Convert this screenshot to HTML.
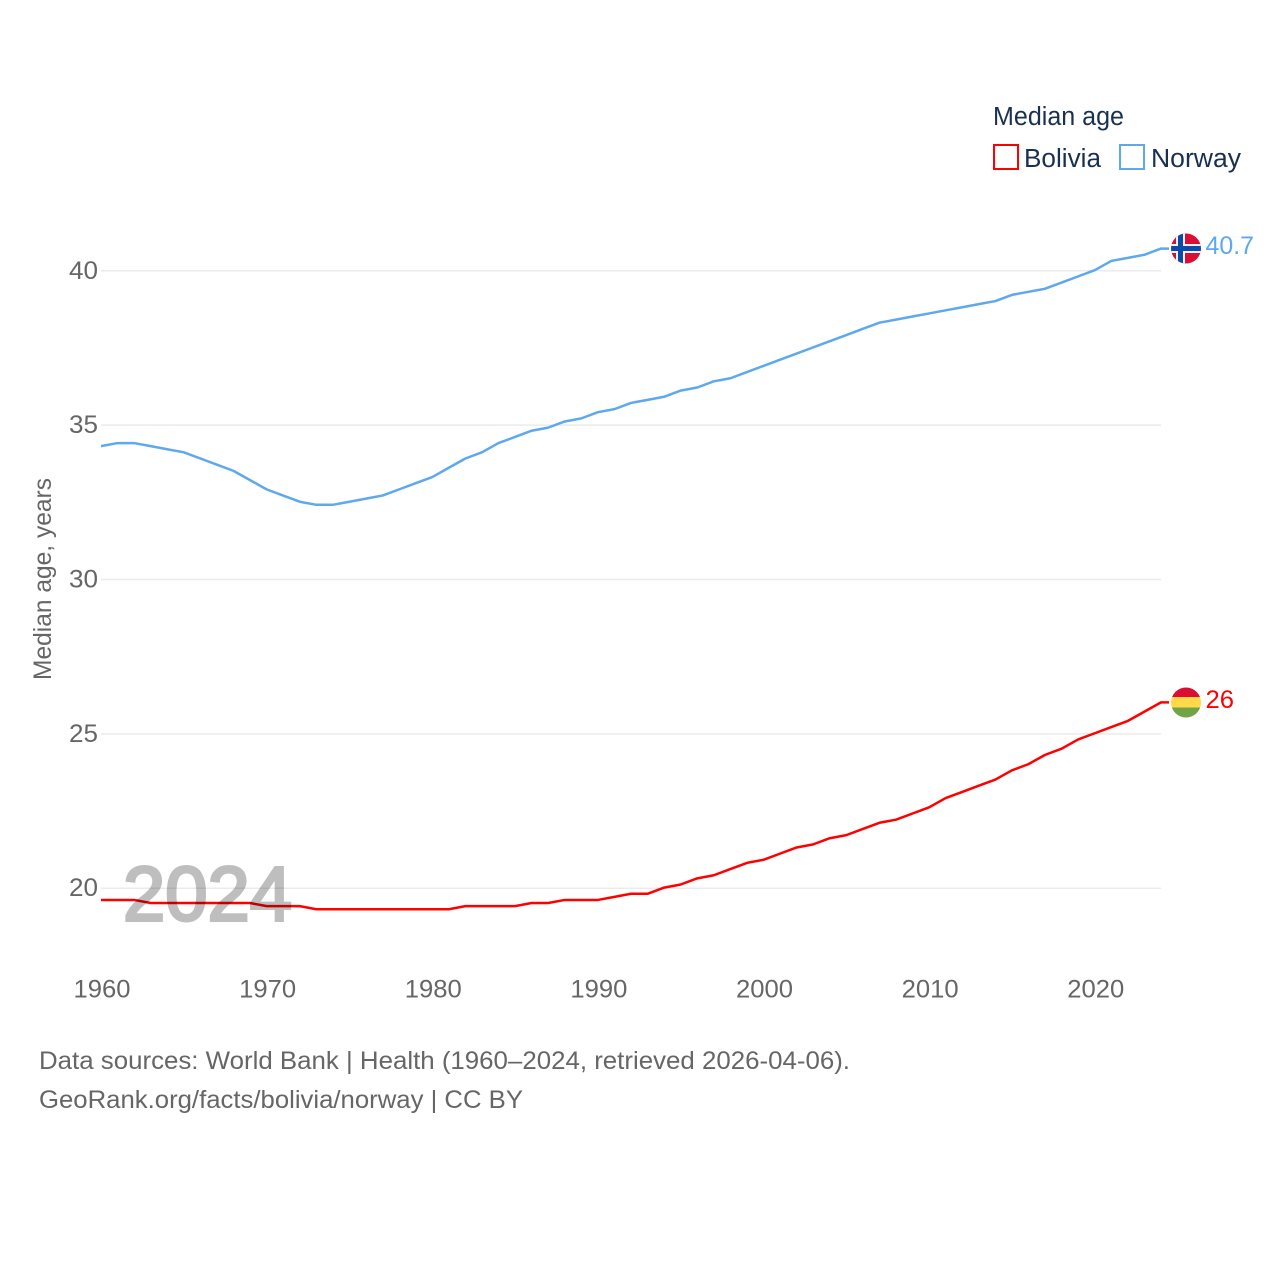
<!DOCTYPE html>
<html>
<head>
<meta charset="utf-8">
<title>Median age: Bolivia and Norway</title>
<style>
html,body{margin:0;padding:0;background:#fff;width:1280px;height:1280px;overflow:hidden}
svg{display:block}
text{font-family:"Liberation Sans",sans-serif}
.tick{font-size:25px;fill:#666}
.foot{font-size:25px;fill:#666}
.leg{font-size:25.5px;fill:#1a3050}
</style>
</head>
<body>
<svg id="chart" xmlns="http://www.w3.org/2000/svg" width="1280" height="1280" viewBox="0 0 1280 1280">
  <defs>
    <clipPath id="clip-no"><circle id="clip-no-circle" cx="1186" cy="248.5" r="15"/></clipPath>
    <clipPath id="clip-bo"><circle id="clip-bo-circle" cx="1186" cy="702.5" r="15"/></clipPath>
  </defs>
  <g id="grid"></g>
  <g id="yticks"></g>
  <g id="xticks"></g>
  <text class="tick" transform="translate(51,680) rotate(-90)" textLength="202" lengthAdjust="spacingAndGlyphs">Median age, years</text>
  <g id="series" transform="translate(0,-0.6)"></g>
  <text x="123" y="920.5" font-size="77" fill="#000" stroke="#000" stroke-width="3" opacity="0.25" textLength="169" lengthAdjust="spacingAndGlyphs">2024</text>

  <g clip-path="url(#clip-no)">
    <rect x="1171" y="233" width="30" height="31" fill="#dc0d33"/>
    <rect x="1176" y="233" width="9" height="31" fill="#f2f2f2"/>
    <rect x="1171" y="244" width="30" height="9" fill="#f2f2f2"/>
    <rect x="1178" y="233" width="5" height="31" fill="#0b4aa8"/>
    <rect x="1171" y="246" width="30" height="5" fill="#0b4aa8"/>
  </g>
  <g clip-path="url(#clip-bo)">
    <rect x="1171" y="687" width="30" height="10" fill="#dc0d33"/>
    <rect x="1171" y="697" width="30" height="10.5" fill="#ffd94a"/>
    <rect x="1171" y="707.5" width="30" height="11" fill="#6fa544"/>
  </g>
  <text id="label-no" x="1205.5" y="254" font-size="25" fill="#5ea8ee" textLength="48.5" lengthAdjust="spacingAndGlyphs"></text>
  <text id="label-bo" x="1205.5" y="708" font-size="25" fill="#ff0000" textLength="28.5" lengthAdjust="spacingAndGlyphs"></text>

  <g>
    <text class="leg" x="993" y="125" textLength="131" lengthAdjust="spacingAndGlyphs">Median age</text>
    <rect x="994" y="145" width="24" height="24" fill="none" stroke="#ff0000" stroke-width="2"/>
    <text class="leg" x="1024" y="167" textLength="77" lengthAdjust="spacingAndGlyphs">Bolivia</text>
    <rect x="1120" y="145" width="24" height="24" fill="none" stroke="#5ea8ee" stroke-width="2"/>
    <text class="leg" x="1151" y="167" textLength="90" lengthAdjust="spacingAndGlyphs">Norway</text>
  </g>

  <text class="foot" x="39" y="1069" textLength="811" lengthAdjust="spacingAndGlyphs">Data sources: World Bank | Health (1960–2024, retrieved 2026-04-06).</text>
  <text class="foot" x="39" y="1108" textLength="484" lengthAdjust="spacingAndGlyphs">GeoRank.org/facts/bolivia/norway | CC BY</text>
</svg>
<script>
const years = [1960,1961,1962,1963,1964,1965,1966,1967,1968,1969,1970,1971,1972,1973,1974,1975,1976,1977,1978,1979,1980,1981,1982,1983,1984,1985,1986,1987,1988,1989,1990,1991,1992,1993,1994,1995,1996,1997,1998,1999,2000,2001,2002,2003,2004,2005,2006,2007,2008,2009,2010,2011,2012,2013,2014,2015,2016,2017,2018,2019,2020,2021,2022,2023,2024];
const norway = [34.3,34.4,34.4,34.3,34.2,34.1,33.9,33.7,33.5,33.2,32.9,32.7,32.5,32.4,32.4,32.5,32.6,32.7,32.9,33.1,33.3,33.6,33.9,34.1,34.4,34.6,34.8,34.9,35.1,35.2,35.4,35.5,35.7,35.8,35.9,36.1,36.2,36.4,36.5,36.7,36.9,37.1,37.3,37.5,37.7,37.9,38.1,38.3,38.4,38.5,38.6,38.7,38.8,38.9,39.0,39.2,39.3,39.4,39.6,39.8,40.0,40.3,40.4,40.5,40.7];
const bolivia = [19.6,19.6,19.6,19.5,19.5,19.5,19.5,19.5,19.5,19.5,19.4,19.4,19.4,19.3,19.3,19.3,19.3,19.3,19.3,19.3,19.3,19.3,19.4,19.4,19.4,19.4,19.5,19.5,19.6,19.6,19.6,19.7,19.8,19.8,20.0,20.1,20.3,20.4,20.6,20.8,20.9,21.1,21.3,21.4,21.6,21.7,21.9,22.1,22.2,22.4,22.6,22.9,23.1,23.3,23.5,23.8,24.0,24.3,24.5,24.8,25.0,25.2,25.4,25.7,26.0];
const yTickValues = [20,25,30,35,40];
const xTickValues = [1960,1970,1980,1990,2000,2010,2020];

const NS = 'http://www.w3.org/2000/svg';
const xScale = function (year) { return 101 + (year - 1960) * (1060 / 64); };
const yScale = function (age) { return 888.2 - (age - 20) * 30.87; };

const gridGroup = document.getElementById('grid');
const yTickGroup = document.getElementById('yticks');
const xTickGroup = document.getElementById('xticks');
const seriesGroup = document.getElementById('series');

yTickValues.forEach(function (v) {
  const line = document.createElementNS(NS, 'line');
  
  
  line.setAttribute('x1', xScale(1960));
  line.setAttribute('x2', xScale(2024));
  line.setAttribute('y1', yScale(v));
  line.setAttribute('y2', yScale(v));
  line.setAttribute('stroke', '#ebebeb');
  line.setAttribute('stroke-width', '1.5');
  gridGroup.appendChild(line);

  const label = document.createElementNS(NS, 'text');
  
  
  label.setAttribute('class', 'tick');
  label.setAttribute('x', 69);
  label.setAttribute('y', yScale(v) + 8);
  label.setAttribute('textLength', '29');
  label.setAttribute('lengthAdjust', 'spacingAndGlyphs');
  label.textContent = String(v);
  yTickGroup.appendChild(label);
});

xTickValues.forEach(function (v) {
  const label = document.createElementNS(NS, 'text');
  
  
  label.setAttribute('class', 'tick');
  label.setAttribute('x', xScale(v) + 1);
  label.setAttribute('y', 997.5);
  label.setAttribute('text-anchor', 'middle');
  label.setAttribute('textLength', '57');
  label.setAttribute('lengthAdjust', 'spacingAndGlyphs');
  label.textContent = String(v);
  xTickGroup.appendChild(label);
});

function drawSeries(values, colour, name) {
  const pts = values.map(function (v, i) { return xScale(years[i]).toFixed(2) + ',' + yScale(v).toFixed(2); });
  const last = yScale(values[values.length - 1]).toFixed(2);
  pts.push('1169,' + last);
  const path = document.createElementNS(NS, 'polyline');
  
  
  path.setAttribute('points', pts.join(' '));
  path.setAttribute('fill', 'none');
  path.setAttribute('stroke', colour);
  path.setAttribute('stroke-width', '2.5');
  path.setAttribute('stroke-linejoin', 'round');
  seriesGroup.appendChild(path);
}
drawSeries(norway, '#5ea8ee', 'norway-line');
drawSeries(bolivia, '#ff0000', 'bolivia-line');

document.getElementById('label-no').textContent = String(norway[norway.length - 1]);
document.getElementById('label-bo').textContent = String(bolivia[bolivia.length - 1]);
</script>
</body>
</html>
